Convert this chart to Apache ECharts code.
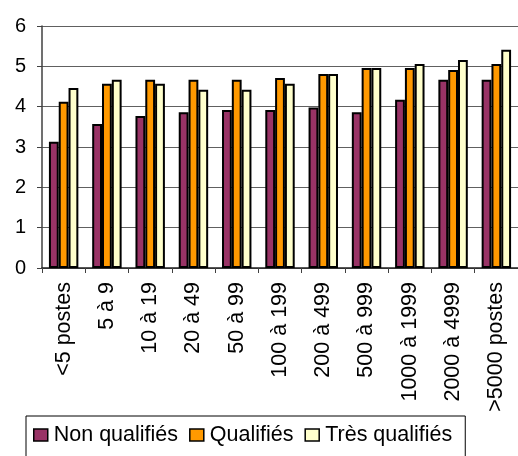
<!DOCTYPE html>
<html><head><meta charset="utf-8">
<script src="https://cdn.jsdelivr.net/npm/echarts@6/dist/echarts.min.js"></script>
<style>html,body{margin:0;padding:0;background:#fff}#c{width:518px;height:456px}</style>
</head><body><div id="c"></div>
<script>
const categories = ['<5 postes','5 à 9','10 à 19','20 à 49','50 à 99','100 à 199','200 à 499','500 à 999','1000 à 1999','2000 à 4999','>5000 postes'];
const nonQualifies = [3.13,3.57,3.77,3.86,3.92,3.92,3.98,3.86,4.17,4.67,4.67];
const qualifies = [4.12,4.57,4.67,4.67,4.67,4.71,4.81,4.96,4.96,4.91,5.06];
const tresQualifies = [4.46,4.67,4.57,4.42,4.42,4.57,4.81,4.96,5.06,5.16,5.41];
const yTicks = [0,1,2,3,4,5,6];

const font = 'Liberation Sans, Arial, sans-serif';
const chart = echarts.init(document.getElementById('c'));
const barStyle = c => ({color:c, borderColor:'#000', borderWidth:2});
chart.setOption({
  animation:false,
  textStyle:{fontFamily:font},
  grid:{left:42, right:-11, top:26, bottom:188, containLabel:false},
  legend:{
    left:26, top:416, orient:'horizontal',
    padding:[8,13,20,7], itemGap:11, itemWidth:14, itemHeight:12,
    borderColor:'#000', borderWidth:1, backgroundColor:'#fff',
    textStyle:{fontFamily:font, fontSize:21.5, color:'#000', padding:[0,0,0,1]},
    icon:'rect',
    itemStyle:{borderColor:'#000', borderWidth:1.5},
    data:['Non qualifiés','Qualifiés','Très qualifiés']
  },
  xAxis:{
    type:'category', data:categories,
    axisLine:{lineStyle:{color:'#202020', width:1.5}},
    axisTick:{show:true, length:5, lineStyle:{color:'#404040'}},
    axisLabel:{rotate:90, fontSize:21.5, color:'#000', margin:14, fontFamily:font, interval:0}
  },
  yAxis:{
    type:'value', min:yTicks[0], max:yTicks[yTicks.length-1], interval:1,
    axisLine:{show:true, lineStyle:{color:'#404040', width:1.5}},
    axisTick:{show:true, length:5, lineStyle:{color:'#404040'}},
    axisLabel:{fontSize:20, color:'#000', margin:16, fontFamily:font},
    splitLine:{lineStyle:{color:'#606060', width:1}}
  },
  series:[
    {name:'Non qualifiés', type:'bar', data:nonQualifies, itemStyle:barStyle('#993366'), barGap:'0%', barCategoryGap:'32%'},
    {name:'Qualifiés', type:'bar', data:qualifies, itemStyle:barStyle('#FF9900'), barGap:'0%', barCategoryGap:'32%'},
    {name:'Très qualifiés', type:'bar', data:tresQualifies, itemStyle:barStyle('#FFFFCC'), barGap:'0%', barCategoryGap:'32%'}
  ]
});
</script></body></html>
